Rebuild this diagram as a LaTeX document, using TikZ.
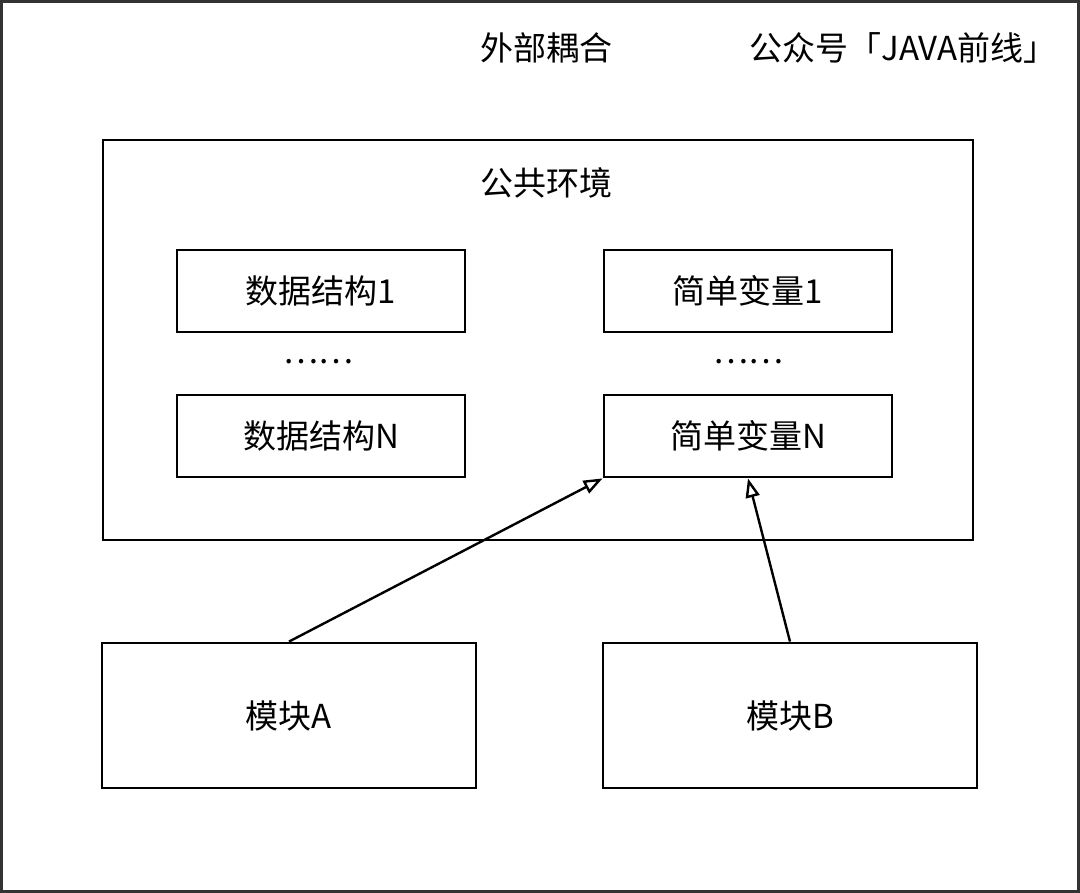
\documentclass[tikz,border=0pt]{standalone}
\usepackage{fontspec}
\setmainfont{Noto Sans CJK SC}
\usetikzlibrary{positioning,arrows.meta}

\tikzset{
  txt/.style={font=\fontsize{33}{40}\selectfont},
  box/.style={draw,line width=2.8pt,minimum width=288pt,minimum height=82pt,txt},
  modbox/.style={draw,line width=2.8pt,minimum width=374pt,minimum height=145pt,txt},
  dep/.style={line width=2.4pt,-{Triangle[open,length=19pt,width=14pt,line width=2.4pt]}}
}

\begin{document}
\begin{tikzpicture}[x=1pt,y=-1pt]
\useasboundingbox (0,0) rectangle (1080,893);
% frame and titles
\draw[line width=2.5pt,black!80] (1.5,1.5) rectangle (1078.5,891.5);
\node[txt] (title) at (546,48) {外部耦合};
\node[txt] (wx) at (903,48) {公众号「JAVA前线」};

% shared environment
\node[draw,line width=2.8pt,minimum width=870pt,minimum height=400pt] (env) at (538,340) {};
\node[txt] (envlbl) at (546,183) {公共环境};
\node[box] (ds1) at (321,291) {数据结构1};
\node[box] (dsN) at (321,436) {数据结构N};
\node[box] (var1) at (748,291) {简单变量1};
\node[box] (varN) at (748,436) {简单变量N};
\node[txt] (dsdots) at (318,362) {……};
\node[txt] (vardots) at (748,362) {……};

% modules
\node[modbox] (modA) at (289,715.5) {模块A};
\node[modbox] (modB) at (790,715.5) {模块B};

\draw[dep] (modA.north) -- (varN.south west);
\draw[dep] (modB.north) -- (varN.south);
\end{tikzpicture}
\end{document}
